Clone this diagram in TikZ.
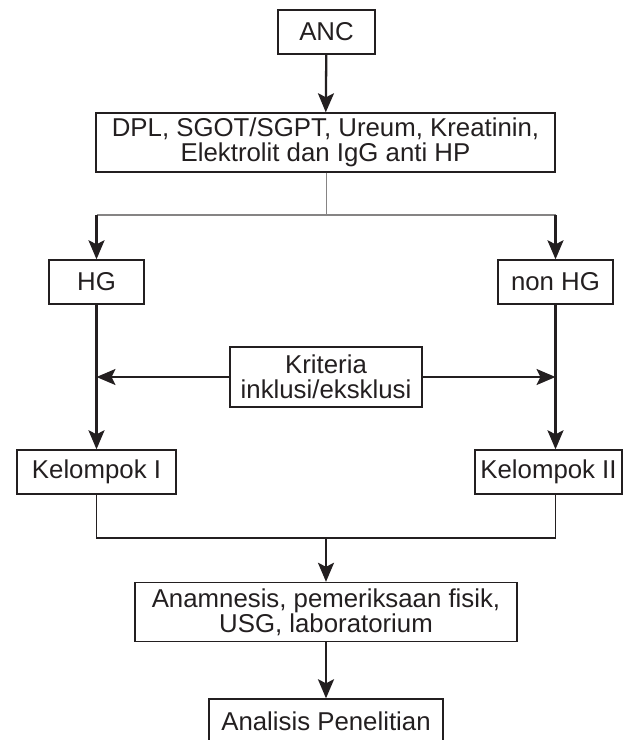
\documentclass[tikz,border=0pt]{standalone}
\usepackage{fontspec}
\setmainfont{Liberation Sans}
\usetikzlibrary{arrows.meta}
\definecolor{ink}{HTML}{231F20}
\begin{document}
\begin{tikzpicture}[x=1pt,y=-1pt,
  box/.style={draw=ink,line width=1.4pt,inner sep=0pt,align=center,text=ink,
    font=\fontsize{25.8}{25}\selectfont},
  arr/.style={draw=ink,line width=2.3pt,-{Stealth[length=19pt,width=16pt,inset=4pt]}},
  thin/.style={draw=ink,line width=1.3pt},
  grayline/.style={draw=ink!55,line width=1.3pt}]
\useasboundingbox (0,0) rectangle (636,740);
\node[box,minimum width=97pt,minimum height=44pt] (anc) at (326.5,32) {ANC};
\node[box,minimum width=459pt,minimum height=59pt] (dpl) at (325.5,142.5) {DPL, SGOT/SGPT, Ureum, Kreatinin,\\Elektrolit dan IgG anti HP};
\node[box,minimum width=95pt,minimum height=44pt] (hg) at (96.5,282) {HG};
\node[box,minimum width=115pt,minimum height=44pt] (nhg) at (555.5,282) {non HG};
\node[box,minimum width=192pt,minimum height=60pt] (krit) at (326,377) {Kriteria\\inklusi/eksklusi};
\node[box,minimum width=159pt,minimum height=44pt] (k1) at (96.5,472) {Kelompok I};
\node[box,minimum width=147pt,minimum height=44pt] (k2) at (548.5,472) {Kelompok II};
\node[box,minimum width=382pt,minimum height=59pt] (anam) at (326,612) {Anamnesis, pemeriksaan fisik,\\USG, laboratorium};
\node[box,minimum width=234pt,minimum height=44pt] (anal) at (326,721) {Analisis Penelitian};
\coordinate (split) at (326.5,215);
\coordinate (lsplit) at (96.5,215);
\coordinate (rsplit) at (555.5,215);
\coordinate (merge) at (326,538);
\path[arr] (anc) -- (dpl);
\path[grayline] (dpl.south -| split) -- (split);
\path[grayline] (lsplit) -- (rsplit);
\path[arr] (lsplit) -- (hg.north);
\path[arr] (rsplit) -- (nhg.north);
\path[arr] (hg.south) -- (k1.north);
\path[arr] (nhg.south) -- (nhg.south |- k2.north);
\path[arr] (krit.west) -- (krit.west -| hg.south);
\path[arr] (krit.east) -- (krit.east -| nhg.south);
\path[thin] (k1.south) |- (merge);
\path[thin] (nhg.south |- k2.south) |- (merge);
\path[arr] (merge) -- (anam.north);
\path[arr] (anam) -- (anal);
\end{tikzpicture}
\end{document}
